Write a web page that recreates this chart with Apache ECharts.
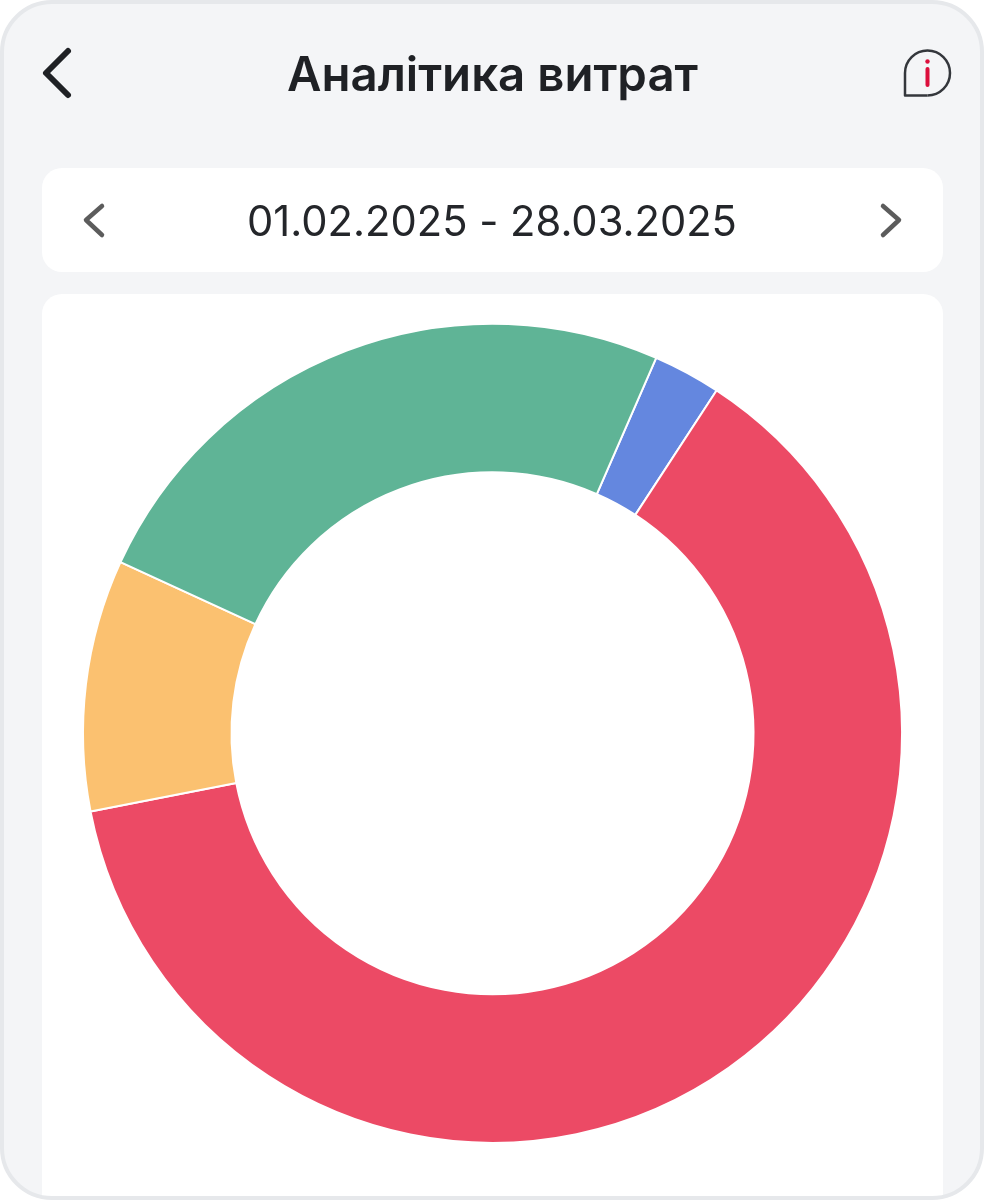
<!DOCTYPE html>
<html><head><meta charset="utf-8">
<script src="https://cdn.jsdelivr.net/npm/echarts@6/dist/echarts.min.js"></script>
<style>html,body{margin:0;padding:0;background:#fff}#c{width:984px;height:1200px}</style>
</head><body><div id="c"></div>
<script>
const titleText = 'Аналітика витрат';
const dateRange = '01.02.2025 - 28.03.2025';
const categories = ['Синій', 'Червоний', 'Жовтий', 'Зелений'];
const values = [2.67, 62.73, 9.92, 24.68];
const colors = ['#6487DF', '#EC4A65', '#FBC170', '#5FB496'];
const F = 'Inter, "Noto Sans", sans-serif';
const chart = echarts.init(document.getElementById('c'), null, {renderer: 'canvas'});
const chevron = (pts, stroke, w) => ({type:'polyline', z:5, shape:{points:pts}, style:{stroke, lineWidth:w, fill:null, lineCap:'round', lineJoin:'round'}});
chart.setOption({
  animation: false,
  backgroundColor: '#fff',
  graphic: [
    {type:'rect', z:-10, shape:{x:2,y:2,width:980,height:1196,r:50}, style:{fill:'#F4F5F7', stroke:'none'}},
    {type:'rect', z:-9, shape:{x:42,y:168,width:901,height:104,r:20}, style:{fill:'#fff'}},
    {type:'rect', z:-9, shape:{x:42,y:294,width:901,height:904,r:[20,20,0,0]}, style:{fill:'#fff'}},
    {type:'rect', z:20, shape:{x:2,y:2,width:980,height:1196,r:50}, style:{fill:null, stroke:'#E6E8EB', lineWidth:4}},
    {type:'text', z:5, style:{x:492.5,y:77,text:titleText,font:'600 47.4px '+F,fill:'#1F2125',align:'center',verticalAlign:'middle'}},
    {type:'text', z:5, style:{x:492,y:223,text:dateRange,font:'400 41.7px '+F,fill:'#24262A',align:'center',verticalAlign:'middle'}},
    chevron([[68,51],[46,73],[68,95]], '#1F2125', 6),
    chevron([[102,206],[86,220],[102,235]], '#5C5C5C', 4.5),
    chevron([[883,206],[899,220],[883,235]], '#5C5C5C', 4.5),
    {type:'arc', z:5, shape:{cx:927.5,cy:73,r:22.5,startAngle:Math.PI,endAngle:Math.PI/2,clockwise:true}, style:{fill:null,stroke:'#34373C',lineWidth:2.5}},
    {type:'polyline', z:5, shape:{points:[[905,73],[905,95.5],[927.5,95.5]]}, style:{fill:null,stroke:'#34373C',lineWidth:2.5,lineJoin:'round'}},
    {type:'line', z:5, shape:{x1:927.5,y1:69,x2:927.5,y2:85}, style:{stroke:'#DC0F3C',lineWidth:4,lineCap:'round'}},
    {type:'circle', z:5, shape:{cx:927.5,cy:61.5,r:2.2}, style:{fill:'#DC0F3C'}}
  ],
  series: [{
    type: 'pie',
    center: [492.5, 733.3],
    radius: [261, 409.5],
    startAngle: 66.44,
    clockwise: true,
    silent: true,
    label: {show:false},
    labelLine: {show:false},
    itemStyle: {borderColor:'#fff', borderWidth:2},
    data: categories.map((name,i)=>({name, value:values[i], itemStyle:{color:colors[i]}}))
  }]
});
</script></body></html>
